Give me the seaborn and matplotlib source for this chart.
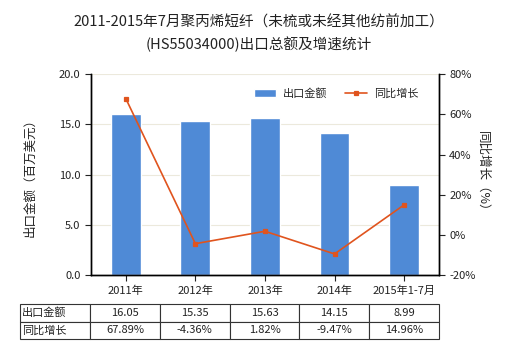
import matplotlib
matplotlib.use("Agg")
import matplotlib.pyplot as plt
import seaborn as sns
import pandas as pd
from matplotlib.ticker import FuncFormatter

categories = ["2011年", "2012年", "2013年", "2014年", "2015年1-7月"]
export_value = [16.05, 15.35, 15.63, 14.15, 8.99]
growth_pct = [67.89, -4.36, 1.82, -9.47, 14.96]
value_labels = ["16.05", "15.35", "15.63", "14.15", "8.99"]
growth_labels = ["67.89%", "-4.36%", "1.82%", "-9.47%", "14.96%"]

sns.set_theme(style="white")
plt.rcParams["font.family"] = ["Noto Sans CJK SC", "DejaVu Sans"]
plt.rcParams["axes.unicode_minus"] = False

bar_color = "#4F8AD6"
line_color = "#E0541E"
text_color = "#222222"

df = pd.DataFrame({"年份": categories, "出口金额": export_value, "同比增长": growth_pct})

fig = plt.figure(figsize=(5.2, 3.5), dpi=100)
ax = fig.add_axes([0.175, 0.214, 0.669, 0.574])

sns.barplot(data=df, x="年份", y="出口金额", color=bar_color, width=0.43,
            saturation=1, ax=ax, label="出口金额", zorder=2)
ax.set_ylim(0, 20)
ax.set_yticks([0, 5, 10, 15, 20])
ax.yaxis.set_major_formatter(FuncFormatter(lambda v, p: f"{v:.1f}"))
ax.grid(axis="y", color="#ECE9DC", linewidth=0.8, zorder=0)
ax.set_xlabel("")
ax.set_ylabel("出口金额（百万美元）", fontsize=9, color=text_color, labelpad=16)

ax2 = ax.twinx()
sns.pointplot(data=df, x="年份", y="同比增长", color=line_color, markers="s",
              markersize=3, linewidth=1.2, ax=ax2, label="同比增长")
ax2.set_ylim(-20, 80)
ax2.set_yticks([-20, 0, 20, 40, 60, 80])
ax2.yaxis.set_major_formatter(FuncFormatter(lambda v, p: f"{v:.0f}%"))
ax2.set_ylabel("同比增长（%）", fontsize=9, color=text_color, rotation=-90, labelpad=10)
ax2.set_xlim(-0.5, 4.5)
ax.set_xlim(-0.5, 4.5)

for a in (ax, ax2):
    for side in ("left", "right", "bottom"):
        a.spines[side].set_visible(True)
        a.spines[side].set_color("black")
        a.spines[side].set_linewidth(1.0)
    a.spines["top"].set_visible(False)
    a.tick_params(axis="both", labelsize=8, colors=text_color, length=4, width=0.8,
                  direction="out")
ax.tick_params(axis="y", left=True, right=False)
ax2.tick_params(axis="y", right=True, left=False)
ax.tick_params(axis="x", bottom=True, length=4)

h1, l1 = ax.get_legend_handles_labels()
h2, l2 = ax2.get_legend_handles_labels()
ax2.legend(h1 + h2, ["出口金额", "同比增长"], loc="upper right", bbox_to_anchor=(0.97, 0.98),
           ncol=2, frameon=False, fontsize=8, handlelength=2.0, columnspacing=1.6,
           handletextpad=0.6)
if ax.get_legend():
    ax.get_legend().remove()

fig.text(0.497, 0.937, "2011-2015年7月聚丙烯短纤（未梳或未经其他纺前加工）",
         ha="center", va="center", fontsize=10.5, color=text_color)
fig.text(0.497, 0.873, "(HS55034000)出口总额及增速统计",
         ha="center", va="center", fontsize=10.5, color=text_color)

cell_text = [["出口金额"] + value_labels, ["同比增长"] + growth_labels]
tbl = ax.table(cellText=cell_text, bbox=[-0.204, -0.318, 1.204, 0.174],
               cellLoc="center", colWidths=[70] + [69.6] * 5)
tbl.auto_set_font_size(False)
tbl.set_fontsize(8)
for (r, c), cell in tbl.get_celld().items():
    cell.set_edgecolor("#333333")
    cell.set_linewidth(0.8)
    cell.get_text().set_color(text_color)
    if c == 0:
        cell.get_text().set_ha("left")
        cell.PAD = 0.03

fig.savefig("out.png", dpi=100)
